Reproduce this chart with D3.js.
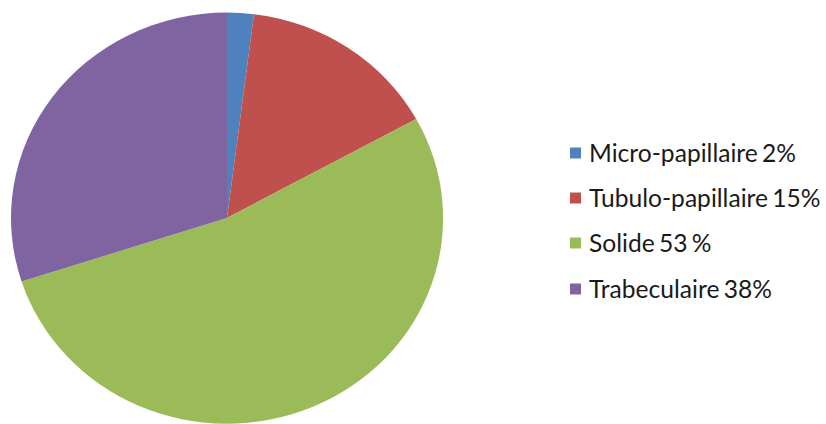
<!DOCTYPE html>
<html><head><meta charset="utf-8">
<script src="https://cdn.jsdelivr.net/npm/d3@7"></script>
<style>html,body{margin:0;padding:0;background:#fff;}</style>
</head><body>
<svg id="c" width="826" height="424"></svg>
<script>
const categories = ["Micro-papillaire", "Tubulo-papillaire", "Solide", "Trabeculaire"];
const values = [2, 15, 53, 30];
const labels = ["Micro-papillaire 2%", "Tubulo-papillaire 15%", "Solide 53 %", "Trabeculaire 38%"];
const colors = ["#4F81BD", "#C0504D", "#9BBB59", "#8064A2"];

const svg = d3.select("#c");
const cx = 227, cy = 218, rx = 216, ry = 205.5;
const pie = d3.pie().sort(null).value(d => d)(values);
const arc = d3.arc().innerRadius(0).outerRadius(1);
const g = svg.append("g").attr("transform", `translate(${cx},${cy}) scale(${rx},${ry})`);
g.selectAll("path").data(pie).enter().append("path")
  .attr("d", arc).attr("fill", (d, i) => colors[i]);

const ly = [153, 198, 243, 289];
const leg = svg.append("g");
const items = leg.selectAll("g").data(labels).enter().append("g")
  .attr("transform", (d, i) => `translate(570,${ly[i]})`);
items.append("rect").attr("x", 0).attr("y", -5.5).attr("width", 11).attr("height", 11)
  .attr("fill", (d, i) => colors[i]);
const texts = items.append("text").attr("x", 19).attr("y", 0).attr("dy", "0.36em")
  .attr("font-family", "Lato, Open Sans, sans-serif").attr("font-size", 22)
  .attr("word-spacing", -2)
  .attr("fill", "#1a1a1a").text(d => d);
const w = texts.node().getComputedTextLength();
const fs = 22 * 207 / w;
texts.attr("font-size", fs);
</script>
</body></html>
